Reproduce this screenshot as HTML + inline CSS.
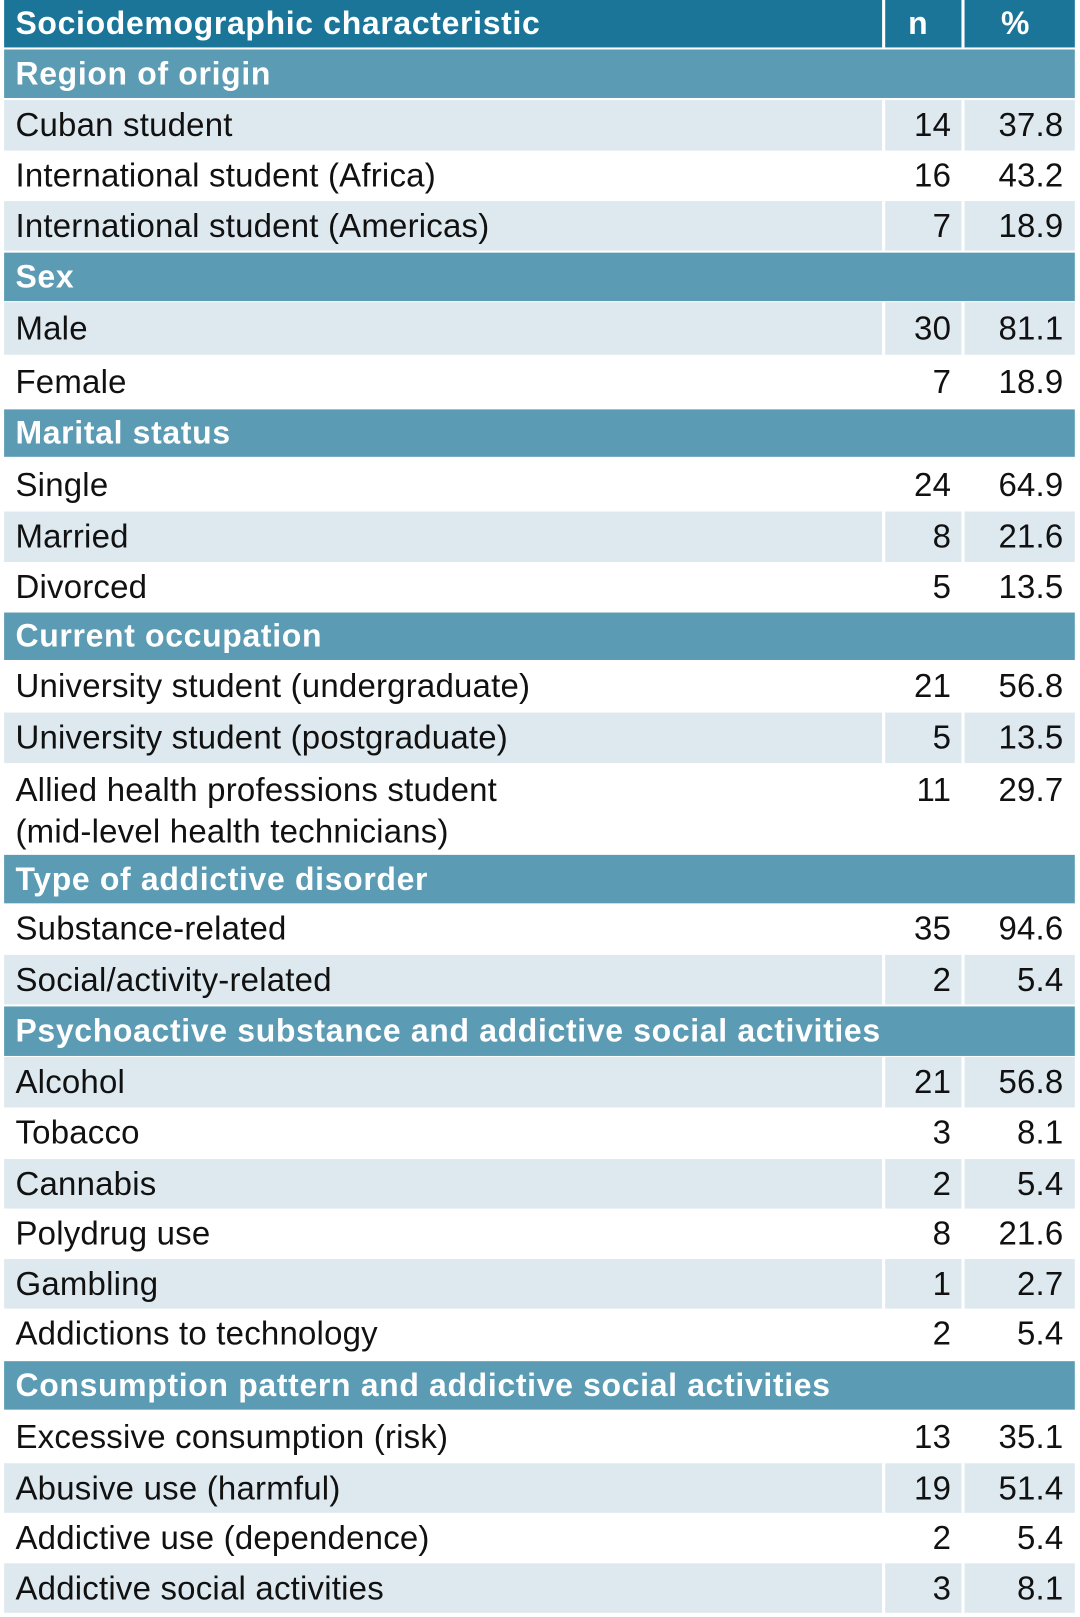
<!DOCTYPE html>
<html><head><meta charset="utf-8"><style>
html,body{margin:0;padding:0;background:#fff;}
body{width:1080px;height:1617px;overflow:hidden;}
#wrap{position:absolute;left:0;top:0;width:1048px;height:1568px;transform:scale(1.0305,1.0312);transform-origin:0 0;font-family:"Liberation Sans",Arial,sans-serif;}
.row{position:absolute;left:4px;width:1039px;}
.cell{position:absolute;top:0;bottom:0;font-size:32px;color:#111;white-space:nowrap;letter-spacing:0.2px;}
.sec .cell,.hdr .cell{color:#fff;font-size:31px;letter-spacing:0.65px;}
.lab{left:11px;}
.num{text-align:right;}
.sec{background:#5b9bb3;color:#fff;font-weight:bold;}
.hdr{background:#1b7598;color:#fff;font-weight:bold;}
.light{background:#dde9ef;}
.div{position:absolute;top:0;bottom:0;width:3px;background:#fff;}
</style></head><body>
<div id="wrap"></div>
<script>
// type, label, n, pct, top, bottom, shade
const rows = [
 ["hdr","Sociodemographic characteristic","n","%",0,46,0],
 ["sec","Region of origin","","",48,95,0],
 ["row","Cuban student","14","37.8",97,146,1],
 ["row","International student (Africa)","16","43.2",146,195,0],
 ["row","International student (Americas)","7","18.9",195,243,1],
 ["sec","Sex","","",245,292,0],
 ["row","Male","30","81.1",293,344,1],
 ["row","Female","7","18.9",344,397,0],
 ["sec","Marital status","","",397,443,0],
 ["row","Single","24","64.9",445,495,0],
 ["row","Married","8","21.6",496,545,1],
 ["row","Divorced","5","13.5",545,593,0],
 ["sec","Current occupation","","",594,640,0],
 ["row","University student (undergraduate)","21","56.8",641,690,0],
 ["row","University student (postgraduate)","5","13.5",691,740,1],
 ["row","Allied health professions student|(mid-level health technicians)","11","29.7",740,828,0],
 ["sec","Type of addictive disorder","","",829,876,0],
 ["row","Substance-related","35","94.6",876,925,0],
 ["row","Social/activity-related","2","5.4",926,974,1],
 ["sec","Psychoactive substance and addictive social activities","","",976,1024,0],
 ["row","Alcohol","21","56.8",1025,1074,1],
 ["row","Tobacco","3","8.1",1074,1123,0],
 ["row","Cannabis","2","5.4",1124,1172,1],
 ["row","Polydrug use","8","21.6",1172,1220,0],
 ["row","Gambling","1","2.7",1221,1269,1],
 ["row","Addictions to technology","2","5.4",1269,1318,0],
 ["sec","Consumption pattern and addictive social activities","","",1320,1367,0],
 ["row","Excessive consumption (risk)","13","35.1",1368,1418,0],
 ["row","Abusive use (harmful)","19","51.4",1419,1467,1],
 ["row","Addictive use (dependence)","2","5.4",1467,1515,0],
 ["row","Addictive social activities","3","8.1",1516,1564,1]
];
const wrap=document.getElementById('wrap');
rows.forEach(r=>{
  const [t,lab,n,p,top,bot,sh]=r;
  const d=document.createElement('div');
  d.className='row '+(t==='row'?(sh?'light':''):t);
  
  
  d.style.top=top+'px';d.style.height=(bot-top)+'px';
  const h=bot-top;
  const multi=(t==='row'&&lab.includes('|'));
  const lh=multi?'40px':h+'px';
  const mk=(cls,txt,style)=>{const c=document.createElement('div');c.className='cell '+cls;c.innerHTML=txt;c.style.lineHeight=lh;if(multi)c.style.top='6px';Object.assign(c.style,style);d.appendChild(c);return c;};
  const l=mk('lab',lab.replace('|','<br>'),{});
  
  
  if(t!=='sec'){
    const cn=mk('num',n,{left:'855px',width:'64px',textAlign:t==='hdr'?'center':'right'});
    
    
    const cp=mk('num',p,{left:'935px',width:'93px',textAlign:t==='hdr'?'center':'right'});
    
    
    if(t==='hdr'||sh){
      [852,929].forEach(x=>{const v=document.createElement('div');v.className='div';v.style.left=x+'px';
      
      
      d.appendChild(v);});
    }
  }
  wrap.appendChild(d);
});
</script>
</body></html>
